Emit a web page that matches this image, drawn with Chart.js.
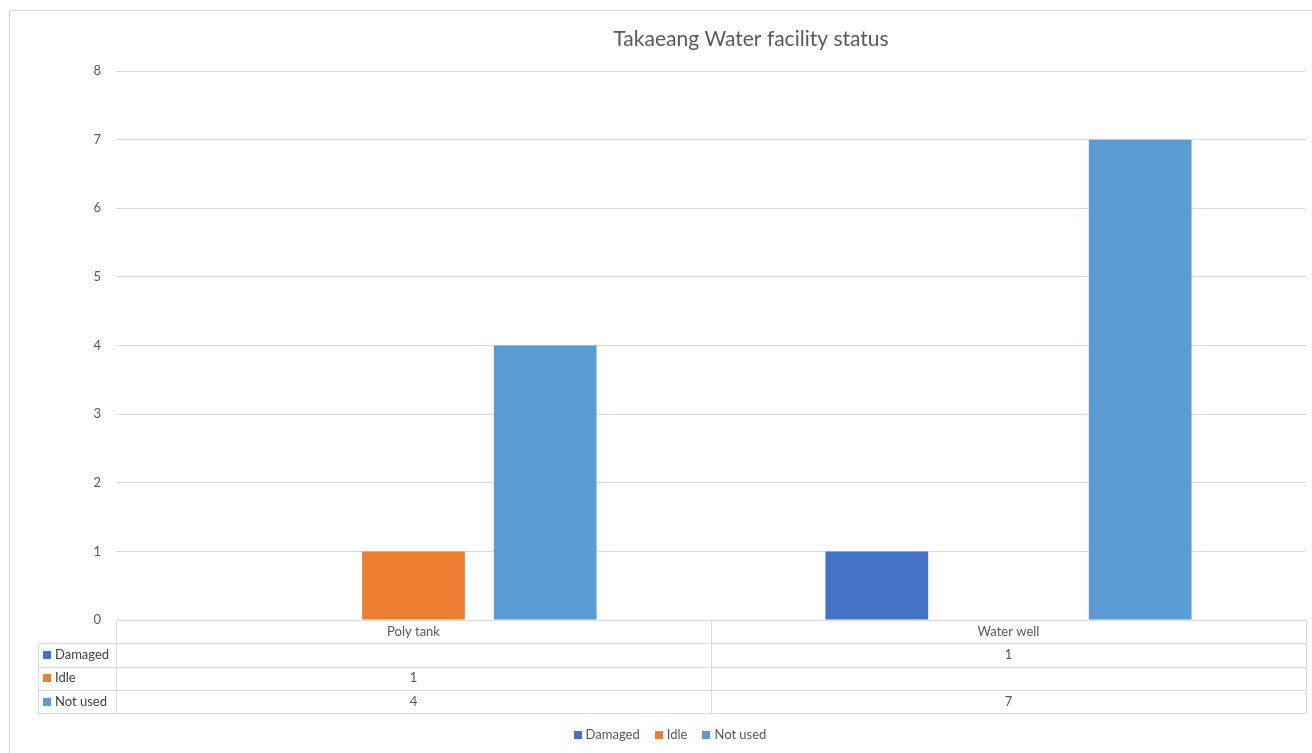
<!DOCTYPE html>
<html>
<head>
<meta charset="utf-8">
<title>Takaeang Water facility status</title>
<script src="https://cdn.jsdelivr.net/npm/chart.js@4/dist/chart.umd.min.js"></script>
<style>
  html, body { margin: 0; padding: 0; background: #ffffff; }
  #wrap { position: relative; width: 1312px; height: 753px; }
  canvas { display: block; }
</style>
</head>
<body>
<div id="wrap"><canvas id="chart" width="1312" height="753"></canvas></div>
<script>
// Facility types and status counts
const categories = ['Poly tank', 'Water well'];
const damaged = [null, 1];
const idle = [1, null];
const notUsed = [4, 7];
const yTicks = [0, 1, 2, 3, 4, 5, 6, 7, 8];
const seriesNames = ['Damaged', 'Idle', 'Not used'];
const seriesColors = ['#4472C4', '#ED7D31', '#5B9BD5'];
const chartTitle = 'Takaeang Water facility status';

const FONT = "Lato, 'Open Sans', 'Liberation Sans', sans-serif";
const GRID = '#d9d9d9';
const TEXT = '#595959';

// Outer frame, title, data table and legend drawn around the plot area
const decor = {
  id: 'decor',
  beforeDraw(chart) {
    const ctx = chart.ctx;
    ctx.save();
    ctx.fillStyle = '#ffffff';
    ctx.fillRect(0, 0, chart.width, chart.height);
    ctx.strokeStyle = '#d9d9d9';
    ctx.lineWidth = 1;
    ctx.beginPath();
    ctx.moveTo(9.5, chart.height);
    ctx.lineTo(9.5, 10.5);
    ctx.lineTo(chart.width, 10.5);
    ctx.stroke();
    ctx.restore();
  },
  afterDraw(chart) {
    const ctx = chart.ctx;
    const area = chart.chartArea;
    const x = chart.scales.x;
    ctx.save();

    // title
    ctx.fillStyle = TEXT;
    ctx.font = '21px ' + FONT;
    ctx.textAlign = 'center';
    ctx.textBaseline = 'middle';
    ctx.fillText(chartTitle, 751, 39);

    // data table
    const rowH = 23.3;
    const top = area.bottom;
    const labelLeft = 38;
    const rows = [top, top + rowH];
    for (let i = 1; i <= chart.data.datasets.length; i++) rows.push(top + rowH * (i + 1));
    ctx.strokeStyle = GRID;
    ctx.lineWidth = 1;
    ctx.beginPath();
    rows.forEach((ry, i) => {
      const y = Math.round(ry) + 0.5;
      ctx.moveTo(i === 0 ? area.left : labelLeft, y);
      ctx.lineTo(area.right, y);
    });
    const bottom = Math.round(rows[rows.length - 1]) + 0.5;
    // vertical separators: series label column, category boundaries
    ctx.moveTo(labelLeft + 0.5, Math.round(rows[1]) + 0.5);
    ctx.lineTo(labelLeft + 0.5, bottom);
    const half = (x.getPixelForValue(1) - x.getPixelForValue(0)) / 2;
    const bounds = [area.left];
    categories.forEach((c, i) => bounds.push(x.getPixelForValue(i) + half));
    bounds.forEach(bx => {
      const vx = Math.round(bx) + 0.5;
      ctx.moveTo(vx, Math.round(top) + 0.5);
      ctx.lineTo(vx, bottom);
    });
    ctx.stroke();

    ctx.font = '13px ' + FONT;
    ctx.fillStyle = TEXT;
    ctx.textAlign = 'center';
    categories.forEach((c, i) => {
      ctx.fillText(c, x.getPixelForValue(i), top + rowH / 2);
    });
    chart.data.datasets.forEach((ds, d) => {
      const cy = top + rowH * (d + 1.5);
      ctx.fillStyle = ds.backgroundColor;
      ctx.fillRect(43, Math.round(cy) - 4, 8, 8);
      ctx.fillStyle = '#404040';
      ctx.font = '13px ' + FONT;
      ctx.textAlign = 'left';
      ctx.fillText(ds.label, 55, cy);
      ctx.font = '13px ' + FONT;
      ctx.fillStyle = TEXT;
      ctx.textAlign = 'center';
      ds.data.forEach((v, i) => {
        if (v !== null && v !== undefined) ctx.fillText(String(v), x.getPixelForValue(i), cy);
      });
    });

    // legend
    ctx.font = '13px ' + FONT;
    ctx.textAlign = 'left';
    const box = 8, gapBox = 4, gapItem = 15;
    const widths = chart.data.datasets.map(ds => box + gapBox + ctx.measureText(ds.label).width);
    const total = widths.reduce((a, b) => a + b, 0) + gapItem * (widths.length - 1);
    let lx = 670 - total / 2;
    const ly = 735;
    chart.data.datasets.forEach((ds, d) => {
      ctx.fillStyle = ds.backgroundColor;
      ctx.fillRect(Math.round(lx), ly - 4, box, box);
      ctx.fillStyle = TEXT;
      ctx.fillText(ds.label, lx + box + gapBox, ly);
      lx += widths[d] + gapItem;
    });

    ctx.restore();
  }
};

const seriesData = [damaged, idle, notUsed];

new Chart(document.getElementById('chart'), {
  type: 'bar',
  data: {
    labels: categories,
    datasets: seriesNames.map((name, i) => ({
      label: name,
      data: seriesData[i],
      backgroundColor: seriesColors[i],
      borderWidth: 0,
      categoryPercentage: 0.664,
      barPercentage: 0.78
    }))
  },
  options: {
    responsive: false,
    animation: false,
    events: [],
    layout: { padding: { left: 38, right: 6, top: 71, bottom: 133 } },
    plugins: {
      legend: { display: false },
      title: { display: false },
      tooltip: { enabled: false }
    },
    scales: {
      x: { display: false },
      y: {
        min: 0,
        max: 8,
        afterFit(scale) { scale.width = 78; },
        afterBuildTicks(scale) { scale.ticks = yTicks.map(v => ({ value: v })); },
        border: { display: false },
        grid: { color: GRID, lineWidth: 1, drawTicks: false },
        ticks: {
          color: TEXT,
          font: { family: FONT, size: 13 },
          padding: 15
        }
      }
    }
  },
  plugins: [decor]
});
</script>
</body>
</html>
